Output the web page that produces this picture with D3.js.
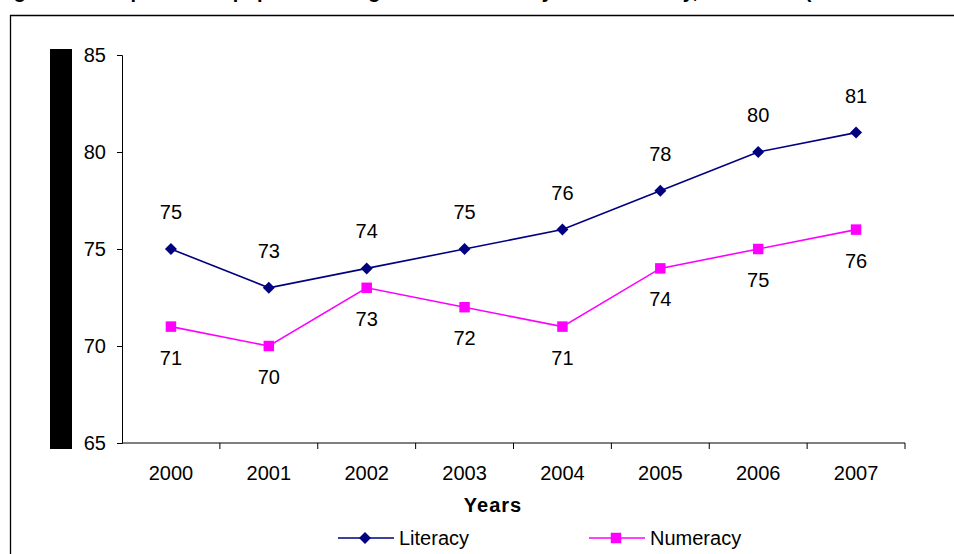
<!DOCTYPE html>
<html>
<head>
<meta charset="utf-8">
<script src="https://cdn.jsdelivr.net/npm/d3@7"></script>
<style>
  body { margin: 0; background: #fff; }
  svg { display: block; font-family: Arial, "Liberation Sans", sans-serif; }
</style>
</head>
<body>
<svg id="chart"></svg>
<script>
// Data
const years = ["2000", "2001", "2002", "2003", "2004", "2005", "2006", "2007"];
const literacy = [75, 73, 74, 75, 76, 78, 80, 81];
const numeracy = [71, 70, 73, 72, 71, 74, 75, 76];
const yTicks = [65, 70, 75, 80, 85];
const titleText = "Figure 1: Comparison of pupils attaining Level 4 in literacy and numeracy, 2000-2007 (Source: Welsh Assembly)";

// Dimensions
const width = 954;
const height = 554;
const plot = { left: 122, right: 905, top: 55, bottom: 443 };

const svg = d3.select("#chart").attr("width", width).attr("height", height);

// Title, cut off by the top edge (only descenders show)
svg.append("text")
  .attr("x", -4)
  .attr("y", -2.5)
  .attr("font-size", 20)
  .attr("font-weight", "bold")
  .text(titleText);

// Outer frame (only top and left edges visible)
svg.append("path")
  .attr("d", `M10.5,${height}V15.5H${width}`)
  .attr("fill", "none")
  .attr("stroke", "#000")
  .attr("stroke-width", 1.3);

// Black bar over axis title
svg.append("rect")
  .attr("x", 50).attr("y", 49)
  .attr("width", 22).attr("height", 400)
  .attr("fill", "#000");

// Scales
const x = d3.scaleBand().domain(years).range([plot.left, plot.right]);
const y = d3.scaleLinear().domain([65, 85]).range([plot.bottom, plot.top]);
const cx = (d) => x(d) + x.bandwidth() / 2;

// Y axis
const yAxis = svg.append("g")
  .attr("transform", `translate(${plot.left},0)`)
  .call(d3.axisLeft(y).tickValues(yTicks).tickSize(5).tickPadding(11));
yAxis.select(".domain").attr("stroke", "#000");
yAxis.selectAll("text").attr("font-size", 20).attr("fill", "#000")
  .attr("font-family", "Arial, 'Liberation Sans', sans-serif");

// X axis: line, ticks between categories, labels centred
const xAxis = svg.append("g")
  .attr("transform", `translate(0,${plot.bottom})`);
xAxis.append("line")
  .attr("x1", plot.left).attr("x2", plot.right)
  .attr("stroke", "#000");
xAxis.selectAll(".tick")
  .data(years.map((d) => x(d)).slice(1).concat([plot.right]))
  .enter()
  .append("line")
  .attr("x1", (d) => d).attr("x2", (d) => d)
  .attr("y1", 0).attr("y2", 6)
  .attr("stroke", "#000");
xAxis.selectAll(".xlabel")
  .data(years)
  .enter()
  .append("text")
  .attr("x", cx)
  .attr("y", 37)
  .attr("text-anchor", "middle")
  .attr("font-size", 20)
  .text((d) => d);

svg.append("text")
  .attr("x", 493).attr("y", 512)
  .attr("text-anchor", "middle")
  .attr("font-size", 20)
  .attr("font-weight", "bold")
  .attr("letter-spacing", 1)
  .text("Years");

// Series (diamond = square turned 45 degrees)
const series = [
  { name: "Literacy", values: literacy, color: "#000080", symbol: d3.symbolSquare, size: 72, rotate: 45, labelDy: -30 },
  { name: "Numeracy", values: numeracy, color: "#FF00FF", symbol: d3.symbolSquare, size: 110, rotate: 0, labelDy: 38 },
];

const line = d3.line()
  .x((d, i) => cx(years[i]))
  .y((d) => y(d));

series.forEach((s) => {
  svg.append("path")
    .datum(s.values)
    .attr("d", line)
    .attr("fill", "none")
    .attr("stroke", s.color)
    .attr("stroke-width", 1.6);

  svg.selectAll(null)
    .data(s.values)
    .enter()
    .append("path")
    .attr("d", d3.symbol().type(s.symbol).size(s.size))
    .attr("transform", (d, i) => `translate(${cx(years[i])},${y(d)}) rotate(${s.rotate})`)
    .attr("fill", s.color);

  svg.selectAll(null)
    .data(s.values)
    .enter()
    .append("text")
    .attr("x", (d, i) => cx(years[i]))
    .attr("y", (d) => y(d) + s.labelDy)
    .attr("text-anchor", "middle")
    .attr("font-size", 20)
    .text((d) => d);
});

// Legend
const legendItems = [
  { s: series[0], x0: 338 },
  { s: series[1], x0: 589 },
];
const legendY = 538;
legendItems.forEach(({ s, x0 }) => {
  svg.append("line")
    .attr("x1", x0).attr("x2", x0 + 56)
    .attr("y1", legendY).attr("y2", legendY)
    .attr("stroke", s.color)
    .attr("stroke-width", 1.6);
  svg.append("path")
    .attr("d", d3.symbol().type(s.symbol).size(s.size))
    .attr("transform", `translate(${x0 + 27},${legendY}) rotate(${s.rotate})`)
    .attr("fill", s.color);
  svg.append("text")
    .attr("x", x0 + 61)
    .attr("y", legendY + 7)
    .attr("font-size", 20)
    .text(s.name);
});
</script>
</body>
</html>
